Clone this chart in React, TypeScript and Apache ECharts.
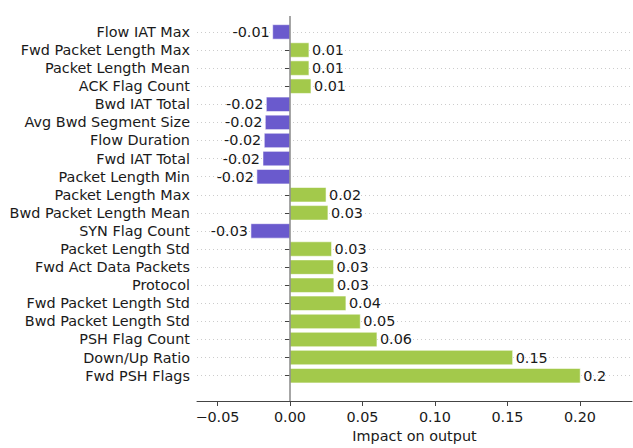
import React, { useEffect, useRef } from "react";
import * as echarts from "echarts";

// Feature names, top to bottom
const categories: string[] = [
  "Flow IAT Max",
  "Fwd Packet Length Max",
  "Packet Length Mean",
  "ACK Flag Count",
  "Bwd IAT Total",
  "Avg Bwd Segment Size",
  "Flow Duration",
  "Fwd IAT Total",
  "Packet Length Min",
  "Packet Length Max",
  "Bwd Packet Length Mean",
  "SYN Flag Count",
  "Packet Length Std",
  "Fwd Act Data Packets",
  "Protocol",
  "Fwd Packet Length Std",
  "Bwd Packet Length Std",
  "PSH Flag Count",
  "Down/Up Ratio",
  "Fwd PSH Flags",
];

// Impact of each feature on the model output
const impacts: number[] = [
  -0.0119, 0.0131, 0.0131, 0.0145, -0.0163, -0.017, -0.0177, -0.0186, -0.0228,
  0.0249, 0.0262, -0.0269, 0.0287, 0.0301, 0.0303, 0.0386, 0.0485, 0.06,
  0.1536, 0.2002,
];

const xTicks: number[] = [-0.05, 0, 0.05, 0.1, 0.15, 0.2];

const POS_COLOR = "#a3c94b";
const NEG_COLOR = "#6a5acd";
const FONT = "DejaVu Sans";
const FONT_SIZE = 14.4;
const TEXT_COLOR = "#1a1a1a";

const fmtValue = (v: number) => String(Number(v.toFixed(2)));
const fmtTick = (v: number) => v.toFixed(2).replace("-", "\u2212");

export default function App() {
  const ref = useRef<HTMLDivElement>(null);

  useEffect(() => {
    if (!ref.current) return;
    const chart = echarts.init(ref.current, undefined, { renderer: "svg" });
    const rowIdx = categories.map((_, i) => i);

    chart.setOption({
      animation: false,
      backgroundColor: "#ffffff",
      grid: { left: 197, right: 1, top: 16, bottom: 46 },
      xAxis: {
        type: "value",
        min: -0.0641,
        max: 0.2359,
        name: "Impact on output",
        nameLocation: "middle",
        nameGap: 28,
        nameTextStyle: { fontFamily: FONT, fontSize: FONT_SIZE, color: TEXT_COLOR },
        axisLine: { show: true, onZero: false, lineStyle: { color: "#444", width: 1 } },
        axisTick: { show: true, length: 5, customValues: xTicks, lineStyle: { color: "#444" } },
        axisLabel: {
          customValues: xTicks,
          margin: 9,
          fontFamily: FONT,
          fontSize: FONT_SIZE,
          color: TEXT_COLOR,
          formatter: (v: number) => fmtTick(v),
        },
        splitLine: { show: false },
      },
      yAxis: {
        type: "value",
        inverse: true,
        min: -0.88,
        max: 20.4,
        axisLine: { show: false },
        axisTick: { show: true, length: 5, customValues: rowIdx, lineStyle: { color: "#444" } },
        axisLabel: {
          customValues: rowIdx,
          margin: 7,
          fontFamily: FONT,
          fontSize: FONT_SIZE,
          color: TEXT_COLOR,
          formatter: (v: number) => categories[Math.round(v)] ?? "",
        },
        splitLine: {
          show: true,
          lineStyle: { color: "#cccccc", type: [1, 3], width: 1 },
        },
      },
      series: [
        {
          type: "custom",
          data: impacts.map((v, i) => [v, i]),
          renderItem: (params: any, api: any) => {
            const v = api.value(0);
            const i = api.value(1);
            const p0 = api.coord([0, i]);
            const p1 = api.coord([v, i]);
            const h = api.size([0, 0.8])[1];
            const pos = v >= 0;
            return {
              type: "group",
              children: [
                {
                  type: "rect",
                  shape: {
                    x: Math.min(p0[0], p1[0]),
                    y: p0[1] - h / 2,
                    width: Math.abs(p1[0] - p0[0]),
                    height: h,
                  },
                  style: {
                    fill: pos ? POS_COLOR : NEG_COLOR,
                    stroke: "rgba(255,255,255,0.55)",
                    lineWidth: 1,
                  },
                },
                {
                  type: "text",
                  x: p1[0] + (pos ? 3 : -3),
                  y: p1[1],
                  style: {
                    text: fmtValue(v),
                    fill: TEXT_COLOR,
                    fontFamily: FONT,
                    fontSize: FONT_SIZE,
                    align: pos ? "left" : "right",
                    verticalAlign: "middle",
                  },
                },
              ],
            };
          },
          markLine: {
            silent: true,
            symbol: "none",
            label: { show: false },
            lineStyle: { color: "#888", width: 1.5, type: "solid" },
            data: [{ xAxis: 0 }],
          },
          z: 3,
        },
      ],
    });

    return () => chart.dispose();
  }, []);

  return (
    <div
      ref={ref}
      style={{ position: "fixed", left: 0, top: 0, width: 633, height: 448 }}
    />
  );
}
